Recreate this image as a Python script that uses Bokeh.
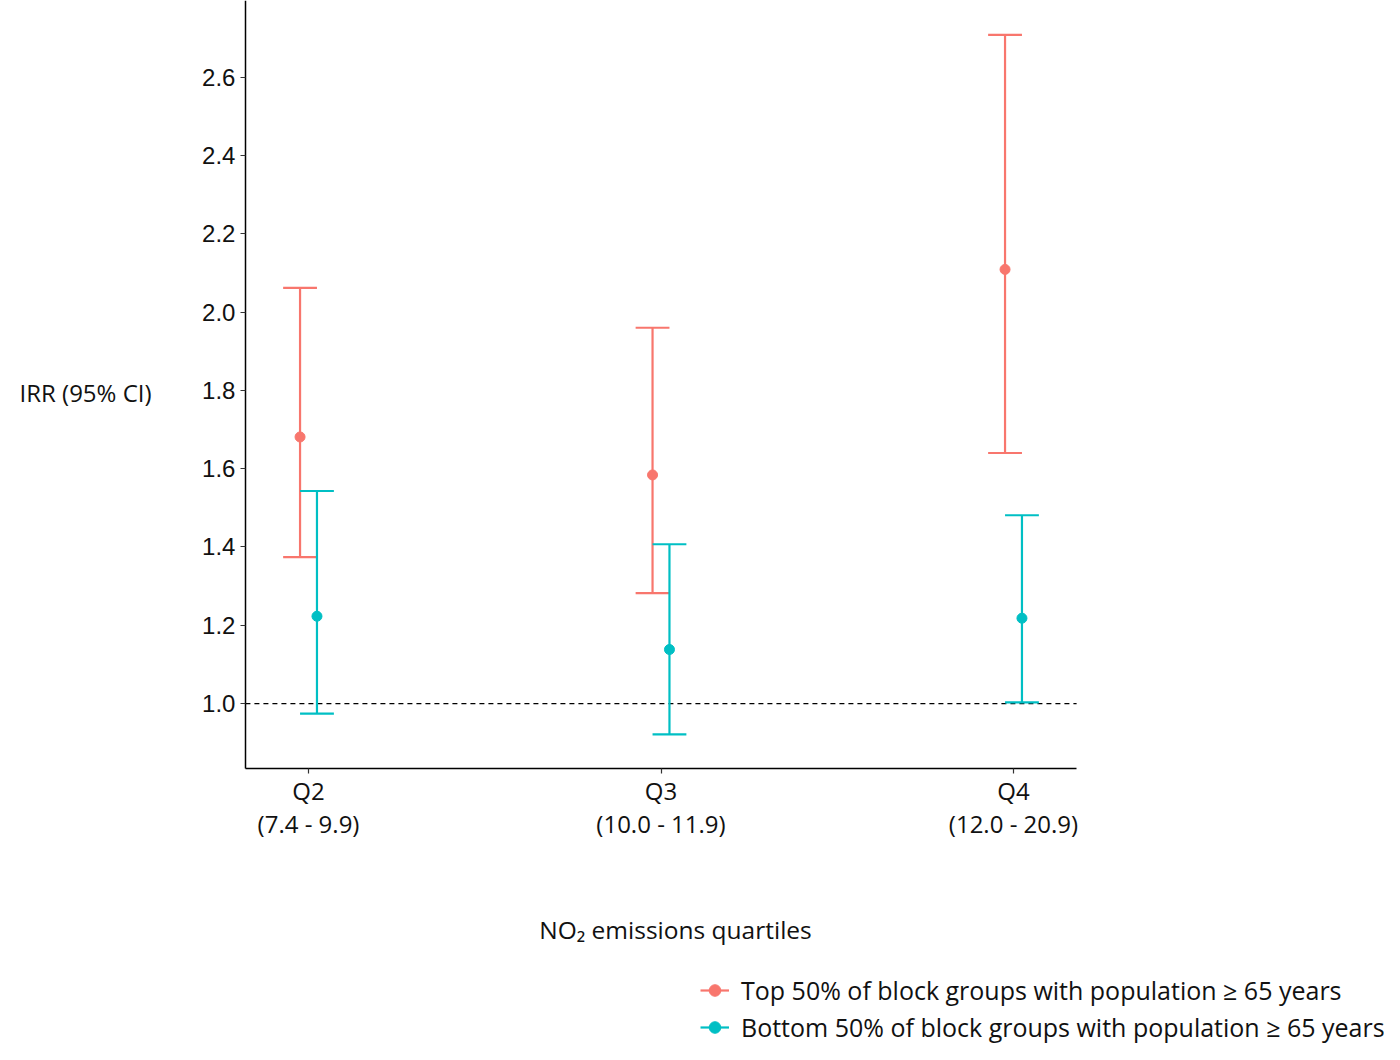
from bokeh.plotting import figure
from bokeh.models import (ColumnDataSource, Label, Legend, LegendItem,
                          FixedTicker, Range1d)
from bokeh.transform import dodge
from bokeh.embed import file_html
from bokeh.resources import INLINE

# 数据：IRR 及 95% 置信区间
quartile_labels = ["Q2\n(7.4 - 9.9)", "Q3\n(10.0 - 11.9)", "Q4\n(12.0 - 20.9)"]
quartile_pos = [1, 2, 3]

top_irr = [1.681, 1.584, 2.109]
top_lower = [1.374, 1.282, 1.640]
top_upper = [2.062, 1.960, 2.708]

bottom_irr = [1.223, 1.138, 1.218]
bottom_lower = [0.974, 0.921, 1.003]
bottom_upper = [1.543, 1.407, 1.481]

y_ticks = [1.0, 1.2, 1.4, 1.6, 1.8, 2.0, 2.2, 2.4, 2.6]

group_names = ["Top 50% of block groups with population \u2265 65 years",
               "Bottom 50% of block groups with population \u2265 65 years"]
RED = "#F8766D"
TEAL = "#00BFC4"
INK = "#111111"
FONT = "Open Sans"

# 绘图区范围（数据单位），坐标轴固定在其边上
X_LIM = (0.821, 3.179)
Y_LIM = (0.834, 2.796)

# 整张画布都是 frame，这样图例和标题都不会被裁掉
p = figure(width=1384, height=1044,
           x_range=Range1d(0.1262, 4.0525), y_range=Range1d(0.129, 2.796),
           output_backend="svg", toolbar_location=None,
           min_border_left=0, min_border_right=0,
           min_border_top=0, min_border_bottom=0)
p.outline_line_color = None
p.xgrid.visible = False
p.ygrid.visible = False

for ax in (p.xaxis[0], p.yaxis[0]):
    ax.axis_line_color = "black"
    ax.axis_line_width = 1.5
    ax.major_tick_line_color = "#333333"
    ax.major_tick_line_width = 1.2
    ax.major_tick_out = 5
    ax.major_tick_in = 0
    ax.minor_tick_line_color = None
    ax.major_label_text_color = INK

p.yaxis.fixed_location = X_LIM[0]
p.yaxis.bounds = Y_LIM
p.yaxis.ticker = FixedTicker(ticks=y_ticks)
p.yaxis.major_label_overrides = {t: "%.1f" % t for t in y_ticks}
p.yaxis.major_label_text_font = "Liberation Sans"
p.yaxis.major_label_text_font_size = "24px"
p.yaxis.major_label_standoff = 5

p.xaxis.fixed_location = Y_LIM[0]
p.xaxis.bounds = X_LIM
p.xaxis.ticker = FixedTicker(ticks=quartile_pos)
p.xaxis.major_label_overrides = dict(zip(quartile_pos, quartile_labels))
p.xaxis.major_label_text_font = FONT
p.xaxis.major_label_text_font_size = "24px"
p.xaxis.major_label_text_line_height = 1.0
p.xaxis.major_label_standoff = 0

# 参考线 IRR = 1
p.segment(x0=[X_LIM[0]], x1=[X_LIM[1]], y0=[1.0], y1=[1.0],
          line_color="black", line_width=1.2, line_dash="5 4")

DODGE = 0.024
CAP = 0.048

legend_items = []
for name, color, off, irr, lo, hi in [
        (group_names[0], RED, -DODGE, top_irr, top_lower, top_upper),
        (group_names[1], TEAL, DODGE, bottom_irr, bottom_lower, bottom_upper)]:
    src = ColumnDataSource(dict(x=quartile_pos, irr=irr, lower=lo, upper=hi))
    bar = p.segment(x0=dodge("x", off), x1=dodge("x", off), y0="lower", y1="upper",
                    source=src, line_color=color, line_width=2.2)
    p.segment(x0=dodge("x", off - CAP), x1=dodge("x", off + CAP), y0="upper", y1="upper",
              source=src, line_color=color, line_width=2.2)
    p.segment(x0=dodge("x", off - CAP), x1=dodge("x", off + CAP), y0="lower", y1="lower",
              source=src, line_color=color, line_width=2.2)
    pts = p.scatter(x=dodge("x", off), y="irr", source=src, size=10,
                    fill_color=color, line_color=color)
    legend_items.append(LegendItem(label=name, renderers=[bar, pts]))

legend = Legend(items=legend_items, location=(700, 0),
                label_text_font=FONT, label_text_font_size="25px",
                label_text_color=INK,
                glyph_width=29, glyph_height=34, label_height=34,
                spacing=3, label_standoff=12, padding=0, margin=0,
                border_line_alpha=0, background_fill_alpha=0)
p.add_layout(legend, "center")

# 轴标题
p.add_layout(Label(x=0.3674, y=1.7944, text="IRR (95% CI)",
                   text_font=FONT, text_font_size="24px", text_color=INK,
                   text_align="center", text_baseline="middle"))
p.add_layout(Label(x=2.0411, y=0.4227, text="NO\u2082 emissions quartiles",
                   text_font=FONT, text_font_size="24.5px", text_color=INK,
                   text_align="center", text_baseline="middle"))

open("out.html", "w").write(file_html(p, INLINE))
